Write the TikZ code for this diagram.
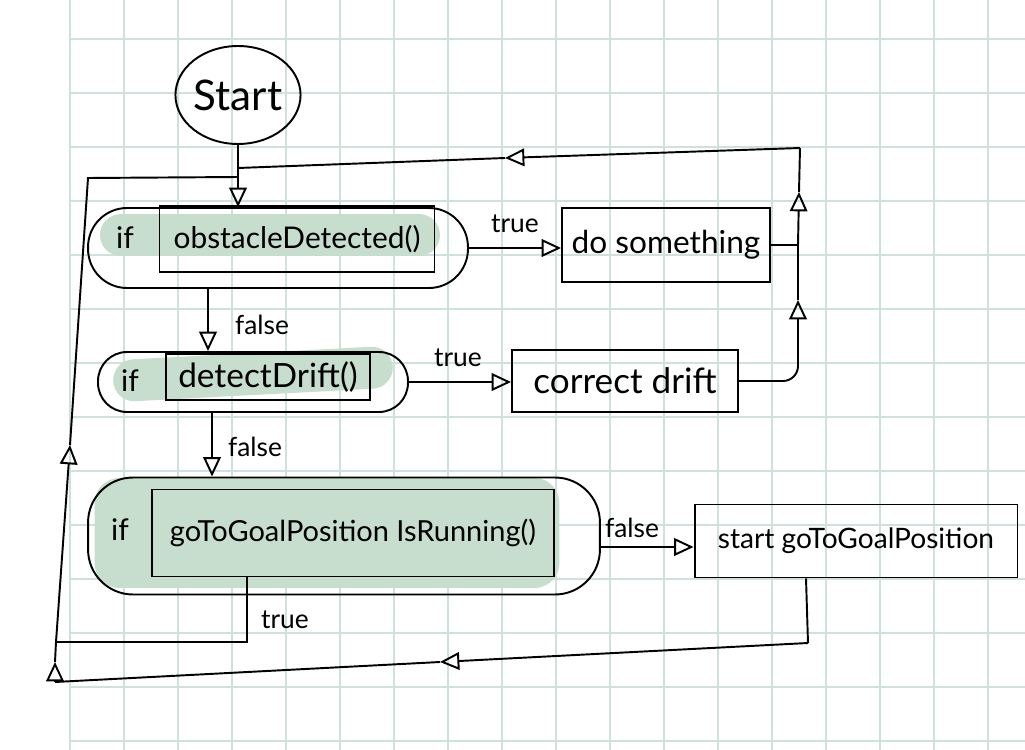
\documentclass[tikz,border=0pt]{standalone}
\usepackage{fontspec}
\setmainfont{Lato}
\usepackage{tikz}
\usetikzlibrary{arrows.meta,shapes,calc}

\definecolor{gridcol}{RGB}{208,224,221}
\definecolor{marker}{RGB}{199,221,205}

\begin{document}
\begin{tikzpicture}[x=0.02cm,y=-0.02cm,line width=1.1pt,
  txt/.style={inner sep=0pt, font=\fontsize{#1}{#1}\selectfont},
  box/.style={draw, rectangle, inner sep=0pt},
  cond/.style={draw, rectangle, rounded corners=#1, inner sep=0pt},
  hilite/.style={fill=marker, rectangle, rounded corners=#1, inner sep=0pt},
  flow/.style={-{Triangle[open,length=11pt,width=10pt]}},
  gridline/.style={draw=gridcol, line width=0.6pt}]
\useasboundingbox (0,0) rectangle (1025,750);
\fill[white] (0,0) rectangle (1025,750);

% paper
\foreach \gx in {70,124,...,1024} \draw[gridline] (\gx,0) -- (\gx,750);
\foreach \gy in {39,93,...,741} \draw[gridline] (70,\gy) -- (1025,\gy);

% highlighter
\node (hl1) at (270,235) [hilite=0.42cm, minimum width=6.8cm, minimum height=0.84cm] {};
\node (hl2) at (253,374) [hilite=0.42cm, minimum width=5.6cm, minimum height=0.84cm, rotate=3] {};
\node (hl3) at (327,533) [hilite=0.5cm, minimum width=9.3cm, minimum height=2.2cm] {};

\node (start) at (238,95) [draw, ellipse, minimum width=2.2cm, minimum height=1.96cm, txt=24] {Start};

% conditions
\node (dec1) at (278,248) [cond=0.78cm, minimum width=7.6cm, minimum height=1.6cm] {};
\node (dec2) at (253,382) [cond=0.58cm, minimum width=6.2cm, minimum height=1.2cm] {};
\node (dec3) at (344,536) [cond=0.9cm, minimum width=10.24cm, minimum height=2.34cm] {};

\node (c1) at (297,239) [box, minimum width=5.5cm, minimum height=1.32cm, txt=17] {obstacleDetected()};
\node (c2) at (268,377) [box, minimum width=4.08cm, minimum height=0.92cm, txt=19] {detectDrift()};
\node (c3) at (353,533) [box, minimum width=8.06cm, minimum height=1.74cm, txt=16.5] {goToGoalPosition IsRunning()};

\node (if1) at (125,238) [txt=17] {if};
\node (if2) at (130,381) [txt=17] {if};
\node (if3) at (120,530) [txt=17] {if};

% actions
\node (act1) at (666,245) [box, minimum width=4.16cm, minimum height=1.48cm, txt=18] {do something};
\node (act2) at (625,381) [box, minimum width=4.52cm, minimum height=1.24cm, txt=20] {correct drift};
\node (act3) at (856,541) [box, minimum width=6.46cm, minimum height=1.46cm, txt=16] {start goToGoalPosition};

% corners of the loops
\coordinate (j1) at (238,168);
\coordinate (j2) at (238,177);
\coordinate (rr) at (798,245);
\coordinate (mr) at (799,192);
\coordinate (rt) at (800,148);
\coordinate (mt) at (505,158);
\coordinate (mc) at (798,300);
\coordinate (lb) at (56,642);
\coordinate (ml) at (70,445);
\coordinate (tl) at (88,178);
\coordinate (rb) at (808,643);
\coordinate (mb) at (440,662);
\coordinate (lb2) at (55,682);
\coordinate (mu) at (55,662);

\draw[flow] (start) -- (start |- dec1.north);

\draw[flow] (dec1.east) -- (dec1.east -| act1.west);
\node (t1) at (515,224) [txt=15] {true};
\draw[flow] ([xshift=-1.4cm]dec1.south) -- ([xshift=-1.4cm]dec1.south |- dec2.north);
\node (f1) at (262,325) [txt=15] {false};

\draw[flow] (dec2.east) -- (dec2.east -| act2.west);
\node (t2) at (458,358) [txt=15] {true};
\draw[flow] ([xshift=-0.82cm]dec2.south) -- ([xshift=-0.82cm]dec2.south |- dec3.north);
\node (f2) at (255,447) [txt=15] {false};

\draw[flow] ([yshift=-0.22cm]dec3.east) -- ([yshift=-0.22cm]dec3.east -| act3.west);
\node (f3) at (632,528) [txt=15] {false};
\draw ([xshift=-2.12cm]c3.south) |- (lb);
\node (t3) at (285,620) [txt=15] {true};

% back to the top
\draw (act1.east) -- (rr);
\draw[flow] (rr) -- (mr);
\draw (mr) -- (rt);
\draw[flow] (rt) -- (mt);
\draw (mt) -- (j1);
\draw[flow, rounded corners=0.3cm] (act2.east) -| (mc);
\draw (mc) -- (rr);

\draw ([xshift=-1cm]act3.south) -- (rb);
\draw[flow] (rb) -- (mb);
\draw (mb) -- (lb2);
\draw[flow] (lb2) -- (mu);
\draw (mu) -- (lb);
\draw[flow] (lb) -- (ml);
\draw (ml) -- (tl) -- (j2);
\end{tikzpicture}
\end{document}
